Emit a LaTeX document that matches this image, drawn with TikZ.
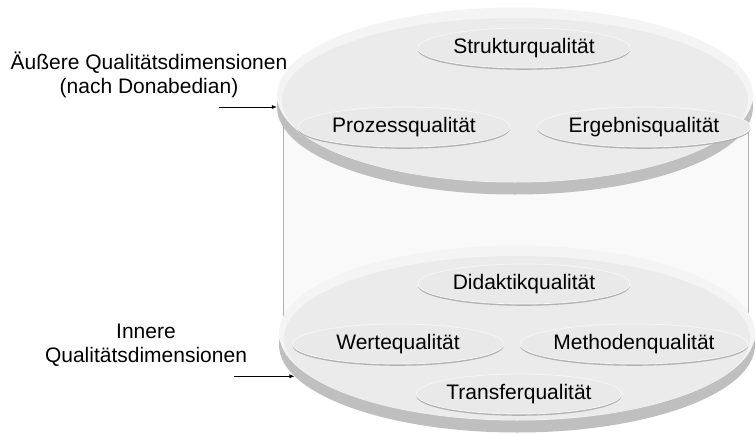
\documentclass[tikz,border=0pt]{standalone}
\usepackage{fontspec}
\setmainfont{Liberation Sans}
\usetikzlibrary{positioning,shapes.geometric,arrows.meta}

\begin{document}
\begin{tikzpicture}[x=1pt,y=-1pt,
    scheibe/.style={ellipse,inner sep=0pt,minimum width=476pt,minimum height=175pt},
    qual/.style={ellipse,inner sep=0pt,minimum height=40pt,fill=gray!17,draw=gray!8,line width=0.8pt,
      preaction={fill=gray!60,transform canvas={yshift=-1.8pt}},
      font=\fontsize{21}{25}\selectfont},
    beschr/.style={align=center,font=\fontsize{21}{24}\selectfont}]
    \useasboundingbox (0,0) rectangle (756,434);
    % Zylinder
    \fill[gray!5] (283,95) rectangle (748,333);
    \draw[gray!60] (283,95) -- (283,333) (748,95) -- (748,333);
    % untere Scheibe
    \node[scheibe,fill=gray!50](untenrand) at (517,345){};
    \node[scheibe,fill=gray!9](unten) at (517,333){};
    \node[ellipse,inner sep=0pt,minimum width=466pt,minimum height=164pt,fill=gray!16](untenin) at (517,338){};
    % obere Scheibe
    \node[scheibe,fill=gray!50](obenrand) at (515,107){};
    \node[scheibe,fill=gray!9](oben) at (515,95){};
    \node[ellipse,inner sep=0pt,minimum width=466pt,minimum height=164pt,fill=gray!16](obenin) at (515,100){};
    % aeussere Dimensionen
    \node[qual,minimum width=212pt](struktur) at (524,48){Strukturqualität};
    \node[qual,minimum width=212pt](prozess) at (404,127){Prozessqualität};
    \node[qual,minimum width=202pt](ergebnis) at (644,127){Ergebnisqualität};
    % innere Dimensionen
    \node[qual,minimum width=212pt](didaktik) at (524,284){Didaktikqualität};
    \node[qual,minimum width=211pt](werte) at (398,344){Wertequalität};
    \node[qual,minimum width=228pt](methoden) at (634,344){Methodenqualität};
    \node[qual,minimum width=192pt](transfer) at (519,394){Transferqualität};
    % Beschriftung links
    \node[beschr](aussen) at (149,75){Äußere Qualitätsdimensionen\\(nach Donabedian)};
    \node[beschr](innen) at (146,345){Innere\\Qualitätsdimensionen};
    \coordinate (pfeilo) at ([xshift=-58pt]obenrand.west);
    \coordinate (pfeilu) at ([xshift=-60pt]untenrand.188);
    \draw[-{Latex[length=5pt,width=4pt]},line width=0.6pt] (pfeilo) -- (obenrand.west);
    \draw[-{Latex[length=5pt,width=4pt]},line width=0.6pt] (pfeilu) -- (untenrand.188);
\end{tikzpicture}
\end{document}
